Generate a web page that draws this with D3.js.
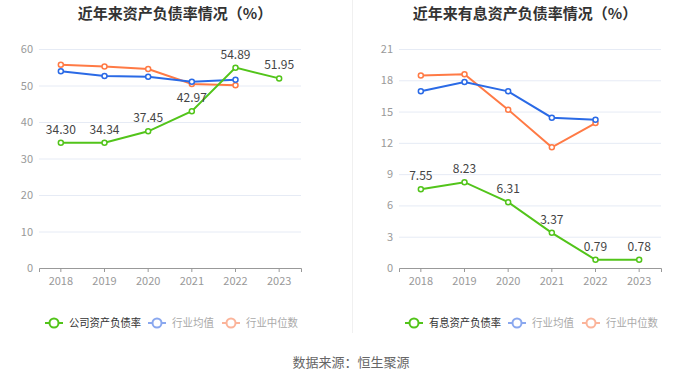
<!DOCTYPE html>
<html>
<head>
<meta charset="utf-8">
<script src="https://cdn.jsdelivr.net/npm/d3@7"></script>
<style>
  body { margin: 0; background: #fff; }
  svg text { font-family: "Noto Sans CJK SC", "Noto Sans", sans-serif; }
</style>
</head>
<body>
<svg id="chart" width="700" height="378"></svg>
<script>
const years = ["2018", "2019", "2020", "2021", "2022", "2023"];

// left: asset-liability ratio
const companyDebt = [34.30, 34.34, 37.45, 42.97, 54.89, 51.95];
const industryAvgDebt = [53.9, 52.6, 52.4, 51.0, 51.6];
const industryMedDebt = [55.7, 55.2, 54.5, 50.4, 50.1];
const leftTicks = [0, 10, 20, 30, 40, 50, 60];

// right: interest-bearing ratio
const companyIb = [7.55, 8.23, 6.31, 3.37, 0.79, 0.78];
const industryAvgIb = [16.94, 17.83, 16.94, 14.41, 14.22];
const industryMedIb = [18.47, 18.57, 15.18, 11.57, 13.9];
const rightTicks = [0, 3, 6, 9, 12, 15, 18, 21];

const GREEN = "#52c41a", BLUE = "#2a6ae6", ORANGE = "#ff7a45";

const svg = d3.select("#chart");

// divider
svg.append("line")
  .attr("x1", 352.5).attr("x2", 352.5).attr("y1", 0).attr("y2", 333)
  .attr("stroke", "#f0f0f0").attr("stroke-width", 1);

function drawPanel(opts) {
  const g = svg.append("g");
  const x = d3.scaleBand().domain(years).range([opts.x0, opts.x0 + 262]).padding(0);
  const y = d3.scaleLinear().domain([0, opts.max]).range([268, 49]);
  const cx = d => x(d) + x.bandwidth() / 2;

  g.append("text")
    .attr("x", opts.cx).attr("y", 19)
    .attr("text-anchor", "middle")
    .attr("font-size", 15).attr("font-weight", "bold").attr("fill", "#333")
    .text(opts.title);

  // grid
  const ax = g.append("g")
    .attr("transform", "translate(" + opts.x0 + ",0)")
    .call(d3.axisLeft(y).tickValues(opts.ticks).tickSize(-262).tickPadding(6));
  ax.select(".domain").remove();
  ax.selectAll(".tick line").attr("stroke", "#e6ebf5");
  ax.selectAll(".tick text").attr("fill", "#999").attr("font-size", 11);

  // x axis
  const xa = g.append("g")
    .attr("transform", "translate(0,268)")
    .call(d3.axisBottom(x).tickSize(4).tickPadding(5));
  xa.select(".domain").attr("stroke", "#999");
  xa.selectAll(".tick line").attr("stroke", "#999");
  xa.selectAll(".tick text").attr("fill", "#999").attr("font-size", 11);

  const line = d3.line().x((d, i) => cx(years[i])).y(d => y(d));
  const series = [
    { vals: opts.med, color: ORANGE },
    { vals: opts.avg, color: BLUE },
    { vals: opts.comp, color: GREEN }
  ];
  series.forEach(s => {
    g.append("path").datum(s.vals)
      .attr("d", line).attr("fill", "none")
      .attr("stroke", s.color).attr("stroke-width", 2);
    g.selectAll(null).data(s.vals).enter().append("circle")
      .attr("cx", (d, i) => cx(years[i])).attr("cy", d => y(d))
      .attr("r", 2.5).attr("fill", "#fff")
      .attr("stroke", s.color).attr("stroke-width", 1.5);
  });

  g.selectAll(null).data(opts.comp).enter().append("text")
    .attr("x", (d, i) => cx(years[i])).attr("y", d => y(d) - 9)
    .attr("text-anchor", "middle").attr("font-size", 12).attr("fill", "#444")
    .text(d => d.toFixed(2));

  // legend
  const items = [
    { label: opts.compLabel, color: GREEN, text: "#333", x: opts.lx, w: 72 },
    { label: "行业均值", color: "#8aa8ef", text: "#aaa", x: opts.lx + 103, w: 42 },
    { label: "行业中位数", color: "#fbb49a", text: "#aaa", x: opts.lx + 177, w: 52 }
  ];
  items.forEach(it => {
    const lg = g.append("g").attr("transform", "translate(" + it.x + ",323)");
    lg.append("line").attr("x1", 0).attr("x2", 18).attr("stroke", it.color).attr("stroke-width", 2);
    lg.append("circle").attr("cx", 9).attr("r", 4.5).attr("fill", "#fff")
      .attr("stroke", it.color).attr("stroke-width", 2);
    lg.append("text").attr("x", 24).attr("y", 4)
      .attr("font-size", 11).attr("fill", it.text)
      .attr("textLength", it.w).attr("lengthAdjust", "spacingAndGlyphs")
      .text(it.label);
  });
}

drawPanel({
  x0: 39, cx: 175, max: 60, ticks: leftTicks,
  title: "近年来资产负债率情况（%）",
  comp: companyDebt, avg: industryAvgDebt, med: industryMedDebt,
  compLabel: "公司资产负债率", lx: 45
});
drawPanel({
  x0: 399, cx: 525, max: 21, ticks: rightTicks,
  title: "近年来有息资产负债率情况（%）",
  comp: companyIb, avg: industryAvgIb, med: industryMedIb,
  compLabel: "有息资产负债率", lx: 405
});

svg.append("text")
  .attr("x", 351).attr("y", 367)
  .attr("text-anchor", "middle").attr("font-size", 13).attr("fill", "#666")
  .text("数据来源：恒生聚源");
</script>
</body>
</html>
